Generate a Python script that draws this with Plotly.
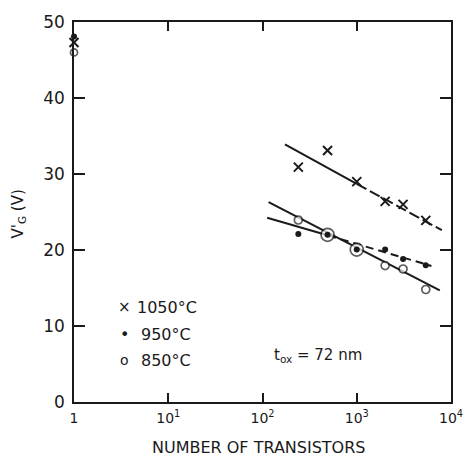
import plotly.graph_objects as go

# ---- data ----
n_transistors = [1, 240, 490, 1000, 2000, 3100, 5400]
vg_1050 = [47.3, 30.9, 33.1, 29.0, 26.4, 26.0, 23.9]
vg_950 = [48.1, 22.1, 22.0, 20.05, 20.05, 18.8, 18.0]
vg_850 = [46.0, 23.95, 22.0, 20.05, 17.95, 17.5, 14.8]

# fitted lines (start, break, end)
fit_1050_n = [173, 1000, 8000]
fit_1050_v = [33.9, 28.7, 22.6]
fit_950_n = [112, 500, 6200]
fit_950_v = [24.25, 21.9, 17.9]
fit_850_n = [116, 7600]
fit_850_v = [26.3, 14.7]

x_tick_vals = [1, 10, 100, 1000, 10000]
x_tick_text = ["1", "10<sup>1</sup>", "10<sup>2</sup>", "10<sup>3</sup>", "10<sup>4</sup>"]
y_tick_vals = [0, 10, 20, 30, 40, 50]

legend_labels = ["1050°C", "950°C", "850°C"]

INK = "#1a1a1a"
FONT = "DejaVu Sans"

fig = go.Figure()

# fit lines
fig.add_trace(go.Scatter(x=fit_1050_n[:2], y=fit_1050_v[:2], mode="lines",
                         line=dict(color=INK, width=2), hoverinfo="skip"))
fig.add_trace(go.Scatter(x=fit_1050_n[1:], y=fit_1050_v[1:], mode="lines",
                         line=dict(color=INK, width=2, dash="11px,4px"), hoverinfo="skip"))
fig.add_trace(go.Scatter(x=fit_950_n[:2], y=fit_950_v[:2], mode="lines",
                         line=dict(color=INK, width=2), hoverinfo="skip"))
fig.add_trace(go.Scatter(x=fit_950_n[1:], y=fit_950_v[1:], mode="lines",
                         line=dict(color=INK, width=2, dash="8px,5px"), hoverinfo="skip"))
fig.add_trace(go.Scatter(x=fit_850_n, y=fit_850_v, mode="lines",
                         line=dict(color=INK, width=2), hoverinfo="skip"))

# markers
size_850 = [7, 8, 13, 13, 8, 8, 8]
fig.add_trace(go.Scatter(x=n_transistors, y=vg_850, mode="markers", cliponaxis=False,
                         marker=dict(symbol="circle", size=size_850, color="white",
                                     line=dict(color=INK, width=1.7))))
fig.add_trace(go.Scatter(x=n_transistors, y=vg_950, mode="markers", cliponaxis=False,
                         marker=dict(symbol="circle", size=6, color=INK,
                                     line=dict(color=INK, width=0))))
fig.add_trace(go.Scatter(x=n_transistors, y=vg_1050, mode="markers", cliponaxis=False,
                         marker=dict(symbol="x-thin", size=9,
                                     line=dict(color=INK, width=2))))

fig.update_layout(
    width=475, height=461,
    margin=dict(l=74, r=14, t=12, b=59),
    paper_bgcolor="white", plot_bgcolor="white",
    showlegend=False,
    font=dict(family=FONT, color=INK),
)
fig.update_xaxes(
    type="log", range=[0, 4], tickvals=x_tick_vals, ticktext=x_tick_text,
    ticks="inside", ticklen=9, tickwidth=1.5, tickcolor=INK,
    showline=True, linecolor=INK, linewidth=1.5, mirror="ticks",
    showgrid=False, zeroline=False, tickfont=dict(size=14, family=FONT),
    ticklabelstandoff=2,
)
fig.update_yaxes(
    range=[0, 50], tickvals=y_tick_vals,
    ticks="inside", ticklen=11, tickwidth=1.5, tickcolor=INK,
    showline=True, linecolor=INK, linewidth=1.5, mirror="ticks",
    showgrid=False, zeroline=False, tickfont=dict(size=17, family=FONT),
    ticklabelstandoff=4,
)

ann = dict(showarrow=False, font=dict(family=FONT, size=16, color=INK))
fig.add_annotation(text="NUMBER OF TRANSISTORS", xref="paper", yref="paper",
                   x=0.49, y=-0.12, xanchor="center", yanchor="middle", **ann)
fig.add_annotation(text="V'<sub>G</sub> (V)", xref="paper", yref="paper",
                   x=-0.147, y=0.495, xanchor="center", yanchor="middle", textangle=-90,
                   showarrow=False, font=dict(family=FONT, size=15, color=INK))

# legend key (glyphs + labels)
glyphs = ["×", "•", "o"]
glyph_sizes = [15, 16, 14]
legend_y = [12.45, 8.85, 5.5]
label_x = [0.645, 0.69, 0.69]
for g, gs, ly, lx, lab in zip(glyphs, glyph_sizes, legend_y, label_x, legend_labels):
    fig.add_annotation(text=g, x=0.537, y=ly, xanchor="center", yanchor="middle",
                       showarrow=False, font=dict(family=FONT, size=gs, color=INK))
    fig.add_annotation(text=lab, x=lx, y=ly, xanchor="left", yanchor="middle", **ann)

fig.add_annotation(text="t<sub>ox</sub> = 72 nm", x=2.1, y=6.1, xanchor="left", yanchor="middle",
                   showarrow=False, font=dict(family=FONT, size=15, color=INK))

fig.write_html("out.html")
